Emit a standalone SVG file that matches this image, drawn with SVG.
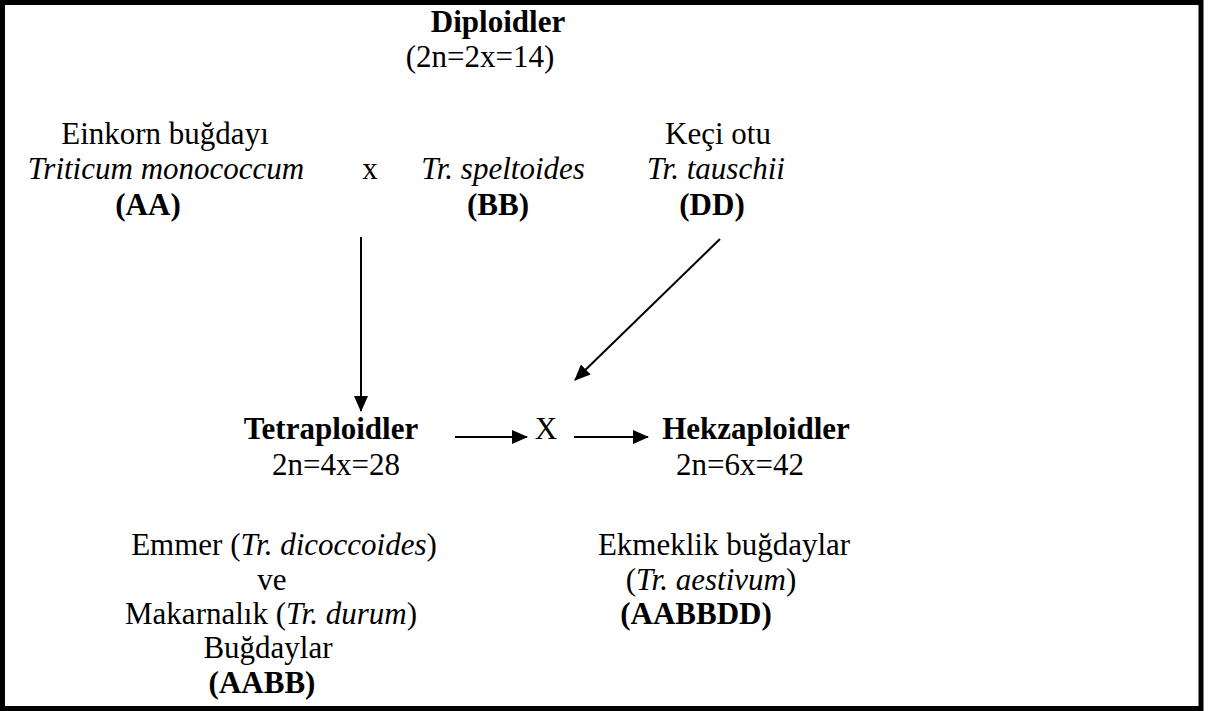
<svg xmlns="http://www.w3.org/2000/svg" width="1212" height="711" viewBox="0 0 1212 711">
<style>
text{font-family:"Liberation Serif","Times New Roman",serif;font-size:31px;fill:#000;text-anchor:middle}
.b{font-weight:bold}
.i{font-style:italic}
.c{stroke:#000;stroke-width:2;fill:none}
</style>
<defs>
<marker id="ah" markerWidth="16" markerHeight="14" refX="15" refY="7" orient="auto" markerUnits="userSpaceOnUse">
<path d="M0,0 L16,7 L0,14 Z" fill="#000"/>
</marker>
</defs>
<rect x="2.5" y="2.5" width="1198.5" height="706" fill="#fff" stroke="#000" stroke-width="5"/>
<g id="diploidler">
<text class="b" x="498" y="32">Diploidler</text>
<text x="480" y="67">(2n=2x=14)</text>
</g>
<g id="einkorn">
<text x="165" y="144">Einkorn buğdayı</text>
<text class="i" x="166" y="179">Triticum monococcum</text>
<text class="b" x="148" y="215">(AA)</text>
</g>
<g id="cross-x">
<text x="370" y="179">x</text>
</g>
<g id="speltoides">
<text class="i" x="503" y="179">Tr. speltoides</text>
<text class="b" x="498" y="215">(BB)</text>
</g>
<g id="tauschii">
<text x="718" y="144">Keçi otu</text>
<text class="i" x="716" y="179">Tr. tauschii</text>
<text class="b" x="712" y="215">(DD)</text>
</g>
<g id="tetraploidler">
<text class="b" x="331" y="439">Tetraploidler</text>
<text x="336" y="475">2n=4x=28</text>
</g>
<g id="cross-X">
<text x="546" y="439">X</text>
</g>
<g id="hekzaploidler">
<text class="b" x="756" y="439">Hekzaploidler</text>
<text x="740" y="475">2n=6x=42</text>
</g>
<g id="emmer">
<text x="284" y="555">Emmer (<tspan class="i">Tr. dicoccoides</tspan>)</text>
<text x="272" y="590">ve</text>
<text x="271" y="624">Makarnalık (<tspan class="i">Tr. durum</tspan>)</text>
<text x="268" y="658">Buğdaylar</text>
<text class="b" x="262" y="693">(AABB)</text>
</g>
<g id="ekmeklik">
<text x="724" y="555">Ekmeklik buğdaylar</text>
<text x="711" y="590">(<tspan class="i">Tr. aestivum</tspan>)</text>
<text class="b" x="696" y="624">(AABBDD)</text>
</g>
<g id="connectors">
<line class="c" x1="361" y1="237" x2="361" y2="411" marker-end="url(#ah)"/>
<line class="c" x1="720" y1="239" x2="575" y2="380" marker-end="url(#ah)"/>
<line class="c" x1="455" y1="437" x2="527" y2="437" marker-end="url(#ah)"/>
<line class="c" x1="574" y1="437" x2="648" y2="437" marker-end="url(#ah)"/>
</g>
</svg>
